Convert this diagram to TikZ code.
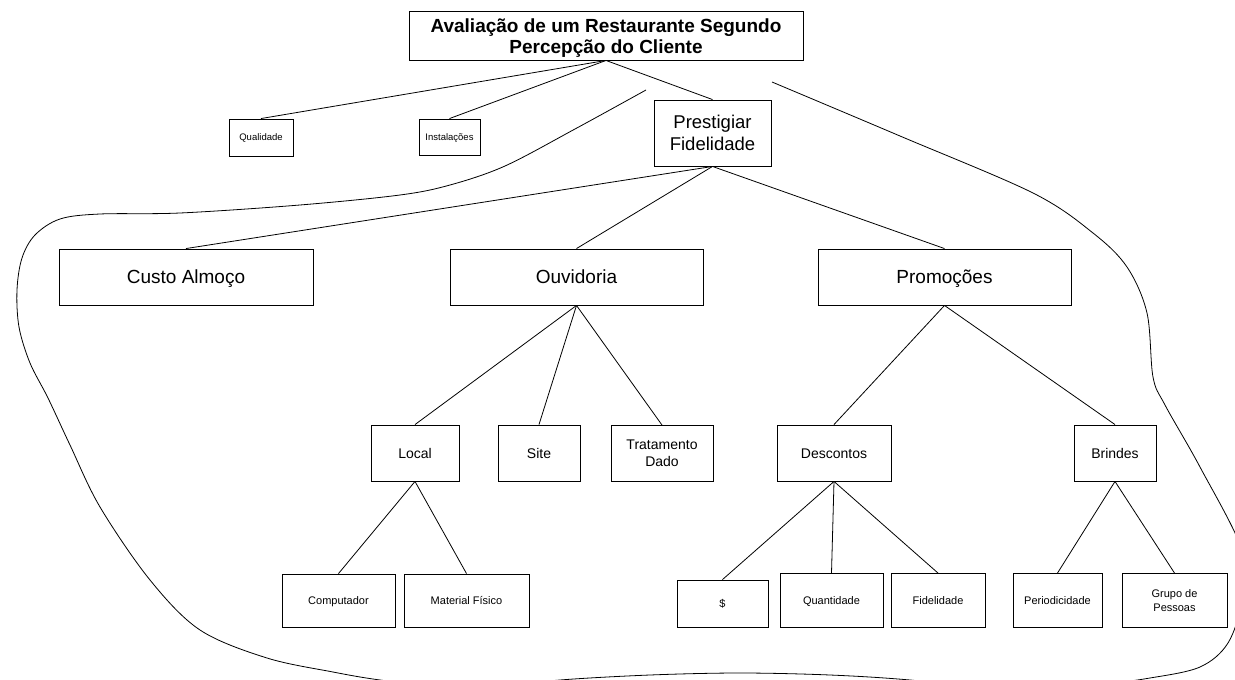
\documentclass[tikz,border=0pt]{standalone}
\usepackage{fontspec}
\setmainfont{Liberation Sans}
\begin{document}
\begin{tikzpicture}[x=1pt,y=-1pt,
  box/.style={draw, rectangle, inner sep=0pt, align=center, line width=0.9pt},
  oneline/.style={text height=#1, text depth=0pt},
  link/.style={line width=0.8pt},
  titlebox/.style={box, font=\fontsize{19}{21.5}\selectfont\bfseries},
  topbox/.style={box, font=\fontsize{18.5}{22}\selectfont},
  bigbox/.style={box, oneline=13.7pt, font=\fontsize{19}{22}\selectfont, minimum height=56pt},
  midbox/.style={box, font=\fontsize{14}{17}\selectfont, minimum height=56pt},
  smallbox/.style={box, font=\fontsize{11}{14}\selectfont},
  tinybox/.style={box, oneline=6.8pt, font=\fontsize{9.5}{11}\selectfont},
]
\useasboundingbox (0,0) rectangle (1235,680);
\fill[white] (0,0) rectangle (1235,680);

% root and first level
\node[titlebox, minimum width=394pt, minimum height=49pt] (root) at (606,35.5)
  {\raisebox{-3pt}[\height][\depth]{\begin{tabular}{@{}c@{}}Avaliação de um Restaurante Segundo\\Percepção do Cliente\end{tabular}}};
\node[tinybox, minimum width=64pt, minimum height=37pt] (qual) at (261,137.5) {Qualidade};
\node[tinybox, minimum width=61pt, minimum height=36pt] (inst) at (449.5,137) {Instalações};
\node[topbox, minimum width=117pt, minimum height=66pt] (prest) at (712.5,133) {Prestigiar\\Fidelidade};

% second level
\node[bigbox, minimum width=254pt] (custo) at (186,277) {Custo Almoço};
\node[bigbox, minimum width=253pt] (ouv) at (576.5,277) {Ouvidoria};
\node[bigbox, minimum width=253pt] (promo) at (944.5,277) {Promoções};

% third level
\node[midbox, oneline=10pt, minimum width=88pt] (local) at (415,453) {Local};
\node[midbox, oneline=10pt, minimum width=82pt] (site) at (539,453) {Site};
\node[midbox, minimum width=102pt] (trat) at (662,453.5) {Tratamento\\Dado};
\node[midbox, oneline=10pt, minimum width=114pt] (desc) at (834,453) {Descontos};
\node[midbox, oneline=10pt, minimum width=82pt] (brin) at (1115,453) {Brindes};

% fourth level
\node[smallbox, oneline=7.9pt, minimum width=113pt, minimum height=53pt] (comp) at (338.5,600.5) {Computador};
\node[smallbox, oneline=7.9pt, minimum width=125pt, minimum height=53pt] (mat) at (466.5,600.5) {Material Físico};
\node[smallbox, oneline=7.9pt, minimum width=91pt, minimum height=47pt] (dollar) at (722.5,603.5) {\$};
\node[smallbox, oneline=7.9pt, minimum width=103pt, minimum height=54pt] (quant) at (831.5,600.5) {Quantidade};
\node[smallbox, oneline=7.9pt, minimum width=94pt, minimum height=54pt] (fid) at (938,600.5) {Fidelidade};
\node[smallbox, oneline=7.9pt, minimum width=89pt, minimum height=54pt] (peri) at (1057.5,600.5) {Periodicidade};
\node[smallbox, minimum width=105pt, minimum height=54pt] (grupo) at (1174.5,600.5) {Grupo de\\Pessoas};

% tree connectors
\foreach \c/\p in {qual/root, inst/root, prest/root,
                   custo/prest, ouv/prest, promo/prest,
                   local/ouv, site/ouv, trat/ouv,
                   desc/promo, brin/promo,
                   comp/local, mat/local,
                   dollar/desc, quant/desc, fid/desc,
                   peri/brin, grupo/brin}
  \draw[link] (\c.north) -- (\p.south);

% freehand loop around the Prestigiar Fidelidade branch
\begin{scope}
\clip (0,0) rectangle (1235,680);
\draw[link, line join=round] plot[smooth, tension=0.55] coordinates {
  (646,90) (575,129) (505,166) (450,185) (400,195) (300,205) (180,213)
  (100,214) (60,219) (35,235) (22,258) (17,290) (19,327) (30,363)
  (48,398) (70,445) (100,507) (150,580) (200,630) (267,658) (333,672)
  (380,680) (450,688) (500,687) (560,680) (650,675) (740,673) (830,675)
  (910,680) (1000,690) (1100,684) (1150,678) (1200,667) (1228,643) (1242,600)
  (1242,550) (1200,467) (1165,405) (1153,377) (1147,313) (1127,267)
  (1093,233) (1033,193) (900,136) (772,82)};
\end{scope}
\end{tikzpicture}
\end{document}
